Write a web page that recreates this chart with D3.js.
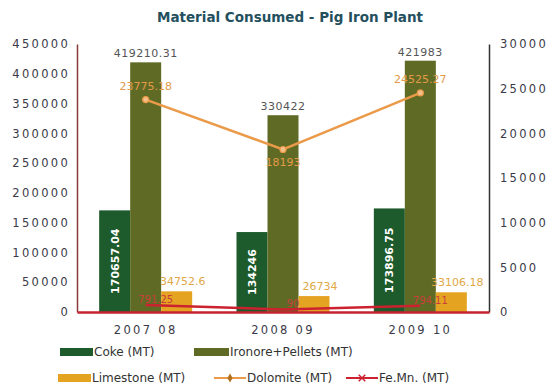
<!DOCTYPE html>
<html>
<head>
<meta charset="utf-8">
<script src="https://cdn.jsdelivr.net/npm/d3@7"></script>
<style>
  body { margin: 0; background: #fff; }
  text { font-family: "DejaVu Sans", sans-serif; }
</style>
</head>
<body>
<div id="chart"></div>
<script>
// data
const years = ["2007 08", "2008 09", "2009 10"];
const coke = [170657.04, 134246, 173896.75];
const ironore = [419210.31, 330422, 421983];
const limestone = [34752.6, 26734, 33106.18];
const dolomite = [23775.18, 18193, 24525.27];
const femn = [791.25, 290, 694.11];
const femnLabels = ["791.25", "90", "794.11"];
const leftTicks = [0, 50000, 100000, 150000, 200000, 250000, 300000, 350000, 400000, 450000];
const rightTicks = [0, 5000, 10000, 15000, 20000, 25000, 30000];

const W = 552, H = 392;
const margin = {top: 44, right: 63, bottom: 80, left: 77};
const width = W - margin.left - margin.right;
const height = H - margin.top - margin.bottom;

const svg = d3.select("#chart").append("svg")
  .attr("width", W).attr("height", H);

svg.append("text")
  .attr("x", 290).attr("y", 22)
  .attr("text-anchor", "middle")
  .style("font-size", "13.5px").style("font-weight", "bold")
  .style("fill", "#24505e")
  .text("Material Consumed - Pig Iron Plant");

const g = svg.append("g")
  .attr("transform", "translate(" + margin.left + "," + margin.top + ")");

const x = d3.scaleBand().domain(years).range([0, width]);
const yL = d3.scaleLinear().domain([0, 450000]).range([height, 0]);
const yR = d3.scaleLinear().domain([0, 30000]).range([height, 0]);

const bw = 31;
const series = [
  {name: "Coke (MT)", vals: coke, color: "#1d5a2c", off: -1.5},
  {name: "Ironore+Pellets (MT)", vals: ironore, color: "#5f6b25", off: -0.5},
  {name: "Limestone (MT)", vals: limestone, color: "#e5a322", off: 0.5}
];

// bars
series.forEach(function(s) {
  g.selectAll(null).data(s.vals).enter().append("rect")
    .attr("x", (d, i) => x(years[i]) + x.bandwidth() / 2 + s.off * bw)
    .attr("y", d => yL(d))
    .attr("width", bw)
    .attr("height", d => height - yL(d))
    .style("fill", s.color);
});

const tickStyle = function(sel) {
  sel.style("font-size", "11.5px").style("fill", "#3a3a48").style("letter-spacing", "2.3px");
};

// left axis
const axL = g.append("g").call(d3.axisLeft(yL).tickValues(leftTicks).tickSize(0).tickPadding(7).tickFormat(d3.format("d")));
axL.select(".domain").attr("stroke", "#8a3a3a").attr("stroke-width", 1.5);
axL.selectAll("text").call(tickStyle);

// right axis
const axR = g.append("g").attr("transform", "translate(" + width + ",0)")
  .call(d3.axisRight(yR).tickValues(rightTicks).tickSize(0).tickPadding(11).tickFormat(d3.format("d")));
axR.select(".domain").attr("stroke", "#333").attr("stroke-width", 1.5);
axR.selectAll("text").call(tickStyle);

// bottom axis
const axB = g.append("g").attr("transform", "translate(0," + height + ")")
  .call(d3.axisBottom(x).tickSize(0).tickPadding(14));
axB.select(".domain").attr("stroke", "#c4232f").attr("stroke-width", 2.5);
axB.selectAll("text").call(tickStyle);

// bar labels
g.selectAll(null).data(ironore).enter().append("text")
  .attr("x", (d, i) => x(years[i]) + x.bandwidth() / 2)
  .attr("y", d => yL(d) - 5)
  .attr("text-anchor", "middle")
  .style("font-size", "11px").style("fill", "#555").style("letter-spacing", "0.5px")
  .text(d => d);

g.selectAll(null).data(coke).enter().append("text")
  .attr("transform", (d, i) => "translate(" + (x(years[i]) + x.bandwidth() / 2 - bw) + "," + ((yL(d) + height) / 2) + ") rotate(-90)")
  .attr("text-anchor", "middle").attr("dy", "0.35em")
  .style("font-size", "11px").style("fill", "#fff").style("font-weight", "bold")
  .text(d => d);

g.selectAll(null).data(limestone).enter().append("text")
  .attr("x", (d, i) => x(years[i]) + x.bandwidth() / 2 + bw + 6)
  .attr("y", d => yL(d) - 6)
  .attr("text-anchor", "middle")
  .style("font-size", "11px").style("fill", "#e0a848")
  .text(d => d);

// lines
const cx = (d, i) => x(years[i]) + x.bandwidth() / 2;
const line = d3.line().x(cx).y(d => yR(d));

g.append("path").datum(femn).attr("d", line)
  .attr("fill", "none").attr("stroke", "#cc2230").attr("stroke-width", 2.5);

g.append("path").datum(dolomite).attr("d", line)
  .attr("fill", "none").attr("stroke", "#eb9a4a").attr("stroke-width", 2.5);
g.selectAll(null).data(dolomite).enter().append("circle")
  .attr("cx", cx).attr("cy", d => yR(d)).attr("r", 3)
  .attr("fill", "#f3c089").attr("stroke", "#eb9a4a").attr("stroke-width", 1.2);

g.selectAll(null).data(dolomite).enter().append("text")
  .attr("x", cx)
  .attr("y", (d, i) => i === 1 ? yR(d) + 17 : yR(d) - 10)
  .attr("text-anchor", "middle")
  .style("font-size", "11px").style("fill", "#e39a48")
  .text(d => d);

g.selectAll(null).data(femn).enter().append("text")
  .attr("x", (d, i) => cx(d, i) + 10)
  .attr("y", d => yR(d) - 2)
  .attr("text-anchor", "middle")
  .style("font-size", "10px").style("fill", "#c8403a")
  .text((d, i) => femnLabels[i]);

// legend
const leg = svg.append("g").style("font-size", "12px");
const legItems = [
  {x: 60, y: 352, type: "rect", color: "#1d5a2c", w: 33, label: "Coke (MT)"},
  {x: 194, y: 352, type: "rect", color: "#5f6b25", w: 35, label: "Ironore+Pellets (MT)"},
  {x: 58, y: 378, type: "rect", color: "#e5a322", w: 33, label: "Limestone (MT)"},
  {x: 214, y: 378, type: "line", color: "#eb9a4a", w: 32, label: "Dolomite (MT)"},
  {x: 346, y: 378, type: "line", color: "#cc2230", w: 32, label: "Fe.Mn. (MT)"}
];
legItems.forEach(function(it, k) {
  if (it.type === "rect") {
    leg.append("rect").attr("x", it.x).attr("y", it.y - 4).attr("width", it.w).attr("height", 8).style("fill", it.color);
  } else {
    leg.append("line").attr("x1", it.x).attr("x2", it.x + it.w).attr("y1", it.y).attr("y2", it.y)
      .attr("stroke", it.color).attr("stroke-width", 2);
    if (k === 3) {
      leg.append("path").attr("d", d3.symbol(d3.symbolDiamond, 24)())
        .attr("transform", "translate(" + (it.x + it.w / 2) + "," + it.y + ")").style("fill", "#b07020");
    } else {
      leg.append("path").attr("d", d3.symbol(d3.symbolTimes, 30)())
        .attr("transform", "translate(" + (it.x + it.w / 2) + "," + it.y + ")")
        .attr("stroke", it.color).attr("stroke-width", 1.5);
    }
  }
  leg.append("text").attr("x", it.x + it.w + 1).attr("y", it.y).attr("dy", "0.35em")
    .style("fill", "#333").text(it.label);
});
</script>
</body>
</html>
